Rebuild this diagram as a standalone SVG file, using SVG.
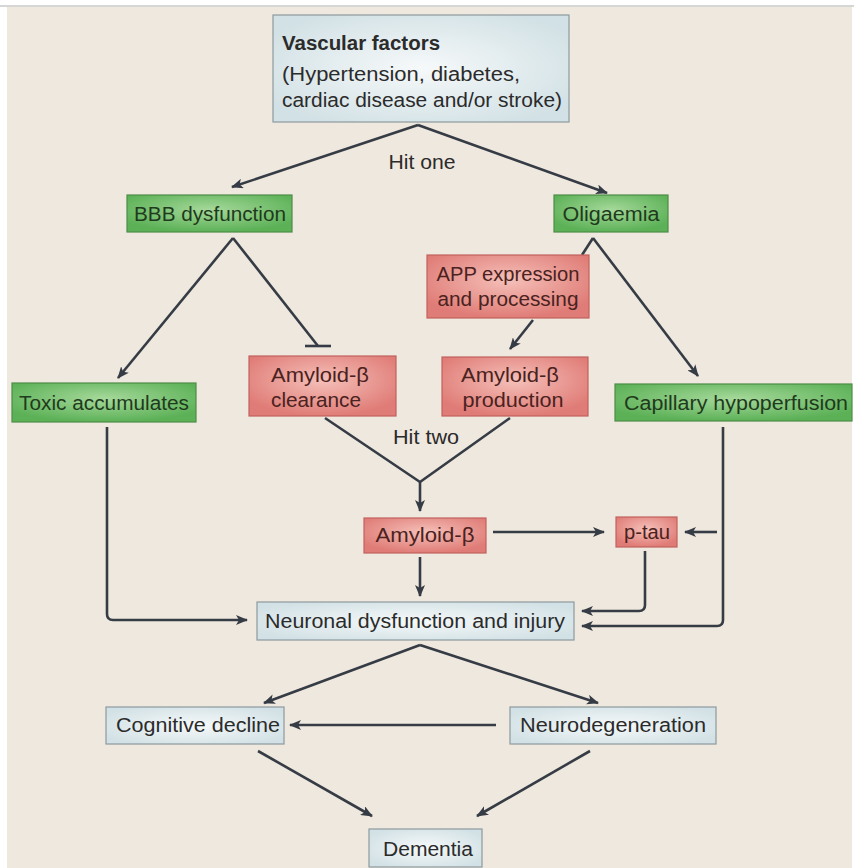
<svg xmlns="http://www.w3.org/2000/svg" width="854" height="868" viewBox="0 0 854 868">
<defs>
<radialGradient id="gBlue" cx="50%" cy="50%" r="60%"><stop offset="0" stop-color="#f6f9fa"/><stop offset="1" stop-color="#d2e1e5"/></radialGradient>
<radialGradient id="gGreen" cx="50%" cy="40%" r="60%"><stop offset="0" stop-color="#a6d99b"/><stop offset="1" stop-color="#5cb157"/></radialGradient>
<radialGradient id="gRed" cx="50%" cy="40%" r="60%"><stop offset="0" stop-color="#f5c0b9"/><stop offset="1" stop-color="#e07c77"/></radialGradient>
<marker id="ah" viewBox="0 0 12 10" refX="11" refY="5" markerWidth="12" markerHeight="10" markerUnits="userSpaceOnUse" orient="auto">
<path d="M0,0 L12,5 L0,10 L3,5 z" fill="#363c45"/>
</marker>
</defs>
<style>
.bg{fill:#efe8de}
.blue{fill:url(#gBlue);stroke:#8d9a9e;stroke-width:1.2}
.green{fill:url(#gGreen);stroke:#4d8c47;stroke-width:1.2}
.red{fill:url(#gRed);stroke:#c0615d;stroke-width:1.2}
text{font-family:"Liberation Sans","Open Sans",Arial,sans-serif;font-size:20px}
.t{fill:#2b2b2b}
.tg{fill:#1f3a1c}
.tr{fill:#4a2220}
.c{fill:none;stroke:#363c45;stroke-width:2.6;stroke-linejoin:round;stroke-linecap:butt}
.a{marker-end:url(#ah)}
</style>
<rect x="0" y="0" width="854" height="868" fill="#ffffff"/>
<rect class="bg" x="7" y="7" width="845" height="861"/>
<line x1="0" y1="6" x2="854" y2="6" stroke="#c8c8c8" stroke-width="1.5"/>

<g id="connectors">
<path class="c a" d="M418,125 L232,187"/>
<path class="c a" d="M418,125 L607,193"/>
<text class="t" x="422" y="169" text-anchor="middle" textLength="67" lengthAdjust="spacingAndGlyphs">Hit one</text>
<path class="c a" d="M233,238 L118,378"/>
<path class="c" d="M233,238 L318,346"/>
<path class="c" d="M305,346 L331,346"/>
<path class="c" d="M593,238 L582,255"/>
<path class="c a" d="M593,238 L698,376"/>
<path class="c a" d="M533,320 L510,349"/>
<path class="c" d="M325,418 L420,482 L510,418"/>
<path class="c a" d="M420,482 L420,511"/>
<text class="t" x="426" y="444" text-anchor="middle" textLength="66" lengthAdjust="spacingAndGlyphs">Hit two</text>
<path class="c a" d="M493,532 L604,532"/>
<path class="c a" d="M717,532 L685,532"/>
<path class="c a" d="M420,557 L420,596"/>
<path class="c a" d="M645,551 L645,605 Q645,611 639,611 L582,611"/>
<path class="c a" d="M723,427 L723,620 Q723,626 717,626 L582,626"/>
<path class="c a" d="M107,427 L107,614 Q107,620 113,620 L247,620"/>
<path class="c a" d="M420,645 L264,703"/>
<path class="c a" d="M420,645 L598,703"/>
<path class="c a" d="M496,725 L290,725"/>
<path class="c a" d="M258,751 L372,816"/>
<path class="c a" d="M590,751 L477,816"/>
</g>

<g id="vascular">
<rect class="blue" x="273" y="15" width="296" height="107"/>
<text class="t" x="282" y="50" font-weight="bold" textLength="158" lengthAdjust="spacingAndGlyphs">Vascular factors</text>
<text class="t" x="282" y="81" textLength="238" lengthAdjust="spacingAndGlyphs">(Hypertension, diabetes,</text>
<text class="t" x="282" y="107" textLength="280" lengthAdjust="spacingAndGlyphs">cardiac disease and/or stroke)</text>
</g>
<g id="bbb">
<rect class="green" x="127" y="195" width="165" height="37"/>
<text class="tg" x="210" y="221" text-anchor="middle" textLength="152" lengthAdjust="spacingAndGlyphs">BBB dysfunction</text>
</g>
<g id="oligaemia">
<rect class="green" x="554" y="195" width="114" height="37"/>
<text class="tg" x="611" y="221" text-anchor="middle" textLength="97" lengthAdjust="spacingAndGlyphs">Oligaemia</text>
</g>
<g id="app">
<rect class="red" x="427" y="255" width="162" height="63"/>
<text class="tr" x="508" y="281" text-anchor="middle" textLength="143" lengthAdjust="spacingAndGlyphs">APP expression</text>
<text class="tr" x="508" y="306" text-anchor="middle" textLength="141" lengthAdjust="spacingAndGlyphs">and processing</text>
</g>
<g id="toxic">
<rect class="green" x="12" y="383" width="184" height="39"/>
<text class="tg" x="104" y="410" text-anchor="middle" textLength="170" lengthAdjust="spacingAndGlyphs">Toxic accumulates</text>
</g>
<g id="clearance">
<rect class="red" x="249" y="356" width="147" height="60"/>
<text class="tr" x="320" y="382" text-anchor="middle" textLength="98" lengthAdjust="spacingAndGlyphs">Amyloid-β</text>
<text class="tr" x="316" y="407" text-anchor="middle" textLength="90" lengthAdjust="spacingAndGlyphs">clearance</text>
</g>
<g id="production">
<rect class="red" x="442" y="357" width="146" height="59"/>
<text class="tr" x="510" y="382" text-anchor="middle" textLength="98" lengthAdjust="spacingAndGlyphs">Amyloid-β</text>
<text class="tr" x="513" y="407" text-anchor="middle" textLength="101" lengthAdjust="spacingAndGlyphs">production</text>
</g>
<g id="capillary">
<rect class="green" x="615" y="384" width="237" height="37"/>
<text class="tg" x="736" y="410" text-anchor="middle" textLength="224" lengthAdjust="spacingAndGlyphs">Capillary hypoperfusion</text>
</g>
<g id="amyloid">
<rect class="red" x="364" y="518" width="122" height="35"/>
<text class="tr" x="425" y="542" text-anchor="middle" textLength="99" lengthAdjust="spacingAndGlyphs">Amyloid-β</text>
</g>
<g id="ptau">
<rect class="red" x="616" y="517" width="61" height="30"/>
<text class="tr" x="647" y="539" text-anchor="middle" textLength="46" lengthAdjust="spacingAndGlyphs">p-tau</text>
</g>
<g id="neuronal">
<rect class="blue" x="257" y="602" width="317" height="38"/>
<text class="t" x="415" y="628" text-anchor="middle" textLength="300" lengthAdjust="spacingAndGlyphs">Neuronal dysfunction and injury</text>
</g>
<g id="cognitive">
<rect class="blue" x="106" y="707" width="178" height="37"/>
<text class="t" x="198" y="732" text-anchor="middle" textLength="164" lengthAdjust="spacingAndGlyphs">Cognitive decline</text>
</g>
<g id="neurodegeneration">
<rect class="blue" x="510" y="707" width="206" height="37"/>
<text class="t" x="613" y="732" text-anchor="middle" textLength="186" lengthAdjust="spacingAndGlyphs">Neurodegeneration</text>
</g>
<g id="dementia">
<rect class="blue" x="369" y="829" width="113" height="38"/>
<text class="t" x="428" y="856" text-anchor="middle" textLength="90" lengthAdjust="spacingAndGlyphs">Dementia</text>
</g>
</svg>
